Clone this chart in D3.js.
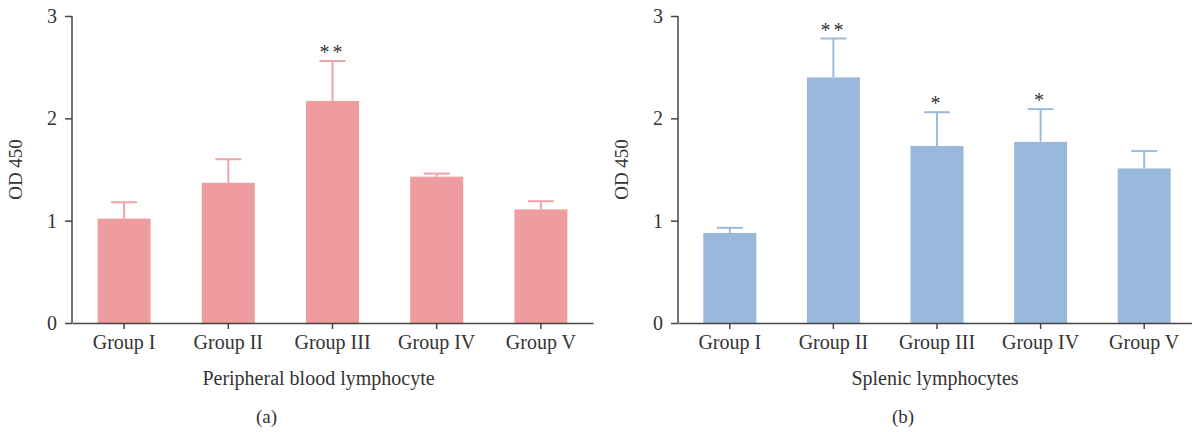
<!DOCTYPE html>
<html>
<head>
<meta charset="utf-8">
<script src="https://cdn.jsdelivr.net/npm/d3@7.9.0/dist/d3.min.js"></script>
<style>
  body { margin: 0; background: #fff; }
  svg text { font-family: "Liberation Serif", "DejaVu Serif", serif; fill: #333; }
</style>
</head>
<body>
<svg id="chart" width="1192" height="432"></svg>
<script>
// data
const groups = ["Group I", "Group II", "Group III", "Group IV", "Group V"];
const yTicks = [0, 1, 2, 3];

const pbMeans = [1.02, 1.37, 2.17, 1.43, 1.11];
const pbUpper = [1.18, 1.60, 2.56, 1.46, 1.19];
const pbSig = ["", "", "**", "", ""];

const spMeans = [0.88, 2.40, 1.73, 1.77, 1.51];
const spUpper = [0.93, 2.78, 2.06, 2.09, 1.68];
const spSig = ["", "**", "*", "*", ""];

const svg = d3.select("#chart");

// one panel of the figure
function drawPanel(opts) {
  const g = svg.append("g");

  let x = d3.scaleBand().domain(groups).range([opts.x0, opts.x1]);
  let y = d3.scaleLinear().domain([0, 3]).range([323, 16]);
  const barW = 53;
  const cx = (d) => x(d) + x.bandwidth() / 2;

  // bars
  g.selectAll("rect.bar")
    .data(groups)
    .join("rect")
    .attr("class", "bar")
    .attr("x", (d) => cx(d) - barW / 2)
    .attr("width", barW)
    .attr("y", (d, i) => y(opts.means[i]))
    .attr("height", (d, i) => y(0) - y(opts.means[i]))
    .attr("fill", opts.color);

  // error bars (upper only)
  g.selectAll("line.err")
    .data(groups)
    .join("line")
    .attr("class", "err")
    .attr("x1", cx).attr("x2", cx)
    .attr("y1", (d, i) => y(opts.means[i]))
    .attr("y2", (d, i) => y(opts.upper[i]))
    .attr("stroke", opts.errColor)
    .attr("stroke-width", 2);

  g.selectAll("line.cap")
    .data(groups)
    .join("line")
    .attr("class", "cap")
    .attr("x1", (d) => cx(d) - 13).attr("x2", (d) => cx(d) + 13)
    .attr("y1", (d, i) => y(opts.upper[i]))
    .attr("y2", (d, i) => y(opts.upper[i]))
    .attr("stroke", opts.errColor)
    .attr("stroke-width", 2);

  // significance stars
  g.selectAll("text.sig")
    .data(groups)
    .join("text")
    .attr("class", "sig")
    .attr("x", cx)
    .attr("y", (d, i) => y(opts.upper[i]) - 2)
    .attr("text-anchor", "middle")
    .attr("font-size", 20)
    .attr("letter-spacing", 3)
    .text((d, i) => opts.sig[i]);

  // axes
  let yAxis = d3.axisLeft(y).tickValues(yTicks).tickFormat(d3.format("d"))
    .tickSize(7).tickPadding(8);
  g.append("g")
    .attr("transform", `translate(${opts.x0},0)`)
    .call(yAxis)
    .call((a) => a.select(".domain").attr("d", `M0,${y(3)}V${y(0)}`));

  let xAxis = d3.axisBottom(x).tickSize(6).tickPadding(6).tickSizeOuter(0);
  g.append("g")
    .attr("transform", `translate(0,${y(0)})`)
    .call(xAxis);

  g.selectAll(".domain, .tick line")
    .attr("stroke", "#444")
    .attr("stroke-width", 1.5);
  g.selectAll(".tick text")
    .attr("font-family", "Liberation Serif")
    .attr("font-size", 20)
    .attr("fill", "#333");

  // titles
  g.append("text")
    .attr("transform", `translate(${opts.x0 - 50},${y(1.5)}) rotate(-90)`)
    .attr("text-anchor", "middle")
    .attr("font-size", 19)
    .text("OD 450");

  g.append("text")
    .attr("x", (opts.x0 + opts.x1) / 2 + opts.titleShift)
    .attr("y", 385)
    .attr("text-anchor", "middle")
    .attr("font-size", 20)
    .text(opts.title);

  g.append("text")
    .attr("x", (opts.x0 + opts.x1) / 2 + opts.labelShift)
    .attr("y", 423)
    .attr("text-anchor", "middle")
    .attr("font-size", 19)
    .text(opts.label);
}

drawPanel({
  x0: 72, x1: 593,
  means: pbMeans, upper: pbUpper, sig: pbSig,
  color: "#ee9ca0", errColor: "#f0a3a8",
  title: "Peripheral blood lymphocyte", label: "(a)",
  titleShift: -14, labelShift: -66
});

drawPanel({
  x0: 678, x1: 1196,
  means: spMeans, upper: spUpper, sig: spSig,
  color: "#98b8dc", errColor: "#9dbbe0",
  title: "Splenic lymphocytes", label: "(b)",
  titleShift: -2, labelShift: -34
});
</script>
</body>
</html>
